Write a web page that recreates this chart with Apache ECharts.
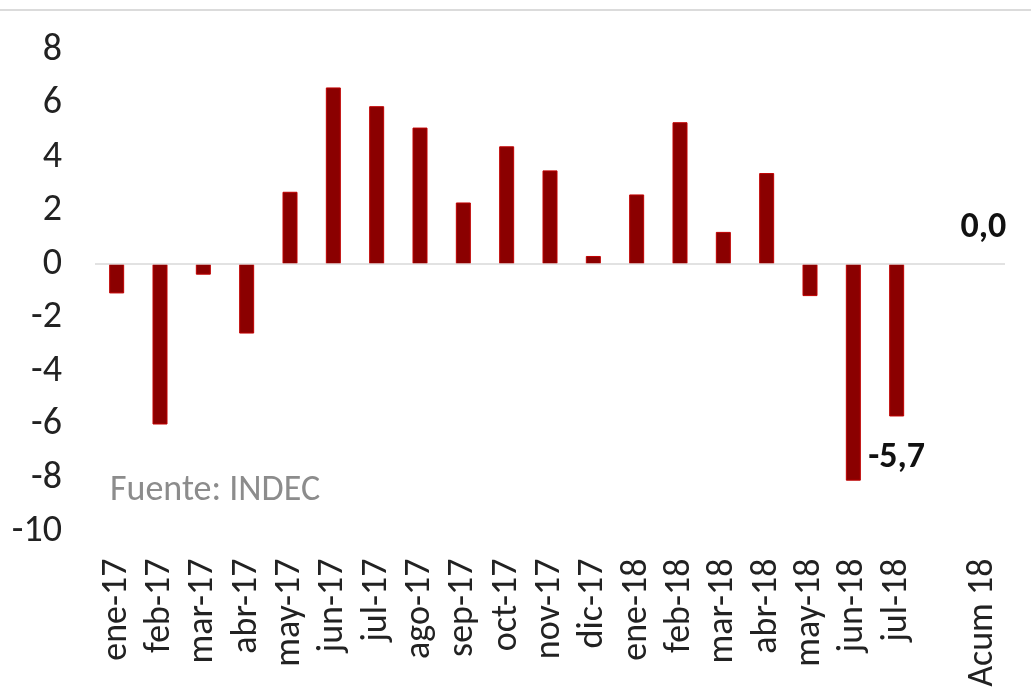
<!DOCTYPE html>
<html>
<head>
<meta charset="utf-8">
<script src="https://cdn.jsdelivr.net/npm/echarts@6/dist/echarts.min.js"></script>
<style>
  html, body { margin: 0; padding: 0; background: #fff; }
  #main { width: 1031px; height: 696px; }
</style>
</head>
<body>
<div id="main"></div>
<script>
// variacion mensual, ultimo valor = acumulado 2018
var categorias = ['ene-17', 'feb-17', 'mar-17', 'abr-17', 'may-17', 'jun-17', 'jul-17',
    'ago-17', 'sep-17', 'oct-17', 'nov-17', 'dic-17', 'ene-18', 'feb-18', 'mar-18',
    'abr-18', 'may-18', 'jun-18', 'jul-18', '', 'Acum 18'];
var valores = [-1.1, -6.0, -0.4, -2.6, 2.7, 6.6, 5.9, 5.1, 2.3, 4.4, 3.5, 0.3, 2.6, 5.3, 1.2,
    3.4, -1.2, -8.1, -5.7, null, 0.0];
var conEtiqueta = ['jul-18', 'Acum 18'];

var fuente = 'Calibri, Carlito, Lato, sans-serif';

var datos = valores.map(function (v, i) {
    var item = { value: v };
    if (conEtiqueta.indexOf(categorias[i]) >= 0) {
        item.label = {
            show: true,
            position: v < 0 ? 'bottom' : 'top',
            distance: v < 0 ? 24 : 18,
            formatter: function (p) { return p.value.toFixed(1).replace('.', ','); },
            fontFamily: fuente,
            fontSize: 36,
            fontWeight: 'bold',
            color: '#111'
        };
    }
    if (v === 0) {
        item.itemStyle = { color: 'transparent', borderColor: 'transparent', borderWidth: 0 };
    }
    return item;
});

var myChart = echarts.init(document.getElementById('main'));
option = {
    animation: false,
    backgroundColor: '#fff',
    grid: { left: 95, right: 26, top: 50, bottom: 164.5 },
    xAxis: {
        type: 'category',
        data: categorias,
        axisLine: { show: false, onZero: false },
        axisTick: { show: false },
        axisLabel: {
            rotate: 90,
            margin: 27,
            interval: 0,
            fontFamily: fuente,
            fontSize: 36,
            color: '#222'
        }
    },
    yAxis: {
        type: 'value',
        min: -10,
        max: 8,
        interval: 2,
        splitLine: { show: false },
        axisLine: { show: false },
        axisTick: { show: false },
        axisLabel: {
            margin: 33,
            fontFamily: fuente,
            fontSize: 38,
            color: '#222'
        }
    },
    graphic: [
        {
            type: 'line',
            shape: { x1: 0, y1: 10, x2: 1031, y2: 10 },
            style: { stroke: '#cfcfcf', lineWidth: 1.5 }
        },
        {
            type: 'text',
            left: 110,
            top: 473,
            style: {
                text: 'Fuente: INDEC',
                fontFamily: fuente,
                fontSize: 36,
                fill: '#8c8c8c'
            }
        }
    ],
    series: [
        {
            type: 'bar',
            data: datos,
            barWidth: 15,
            itemStyle: { color: '#8b0000', borderColor: '#c00000', borderWidth: 1 },
            markLine: {
                silent: true,
                symbol: 'none',
                label: { show: false },
                lineStyle: { color: '#d9d9d9', width: 1.5, type: 'solid' },
                data: [{ yAxis: 0 }]
            }
        }
    ]
};
myChart.setOption(option);
</script>
</body>
</html>
